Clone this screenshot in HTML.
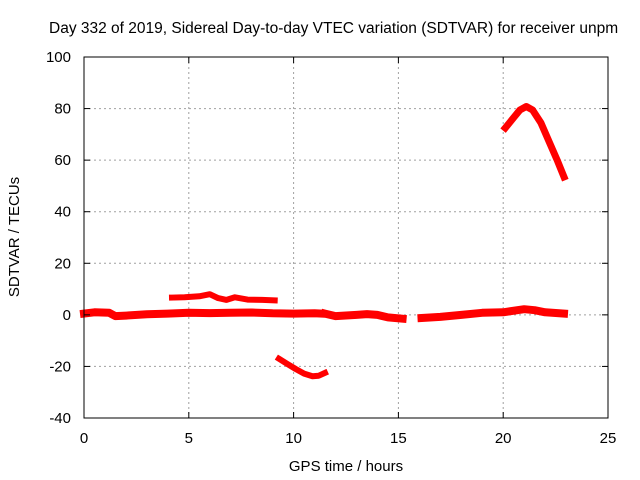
<!DOCTYPE html>
<html><head><meta charset="utf-8"><style>
body{margin:0;background:#fff}
svg{display:block;font-family:"Liberation Sans",sans-serif}
</style></head><body>
<svg id="chart" width="640" height="480" viewBox="0 0 640 480">
<text x="49" y="33" font-size="15.5" fill="#000">Day 332 of 2019, Sidereal Day-to-day VTEC variation (SDTVAR) for receiver unpm</text>
<g id="grid"></g>
<g id="series"></g>
<rect x="84" y="57" width="524" height="361" fill="none" stroke="#000" stroke-width="1"/>
<g id="ticks"></g>
<text x="346" y="471" font-size="15" text-anchor="middle">GPS time / hours</text>
<text transform="translate(19,237) rotate(-90)" font-size="15" text-anchor="middle">SDTVAR / TECUs</text>
</svg>
<script>
const xTicks=[0,5,10,15,20,25];
const yTicks=[-40,-20,0,20,40,60,80,100];
const mainHours=[0,0.5,1.2,1.5,2,3,4,5,6,7,8,9,10,11,11.3];
const mainVals=[0.5,1,0.8,-0.5,-0.3,0.2,0.5,0.8,0.7,0.8,0.9,0.6,0.5,0.6,0.5];
const mid1Hours=[11.5,12,13,13.5,14,14.5,15.2];
const mid1Vals=[0.5,-0.5,0,0.3,0,-1,-1.5];
const lateHours=[16.1,17,18,19,20,21,21.5,22,22.9];
const lateVals=[-1.2,-0.8,0,0.8,1,2.2,1.8,1,0.5];
const upperHours=[4.2,4.8,5.5,6,6.4,6.8,7.2,7.8,8.5,9.1];
const upperVals=[6.7,6.8,7.2,8,6.5,5.8,6.8,5.9,5.8,5.6];
const lowHours=[9.3,9.7,10.1,10.5,10.9,11.2,11.5];
const lowVals=[-17,-19,-21,-22.8,-23.8,-23.6,-22.5];
const highHours=[20.1,20.5,20.8,21.1,21.4,21.8,22.2,22.6,22.9];
const highVals=[72.5,76.5,79.5,80.8,79.5,74.5,67,59.5,53.5];
const X0=84,X1=608,Y0=418,Y1=57;
const xs=v=>X0+(v-0)/25*(X1-X0);
const ys=v=>Y0-(v+40)/140*(Y0-Y1);
const NS='http://www.w3.org/2000/svg';
const grid=document.getElementById('grid'),ticks=document.getElementById('ticks'),ser=document.getElementById('series');
function mk(tag,attrs,parent){const e=document.createElementNS(NS,tag);for(const k in attrs)e.setAttribute(k,attrs[k]);parent.appendChild(e);return e;}
xTicks.forEach(t=>{
 const x=xs(t);
 if(t>0&&t<25){const g=mk('line',{x1:x,x2:x,y1:Y1,y2:Y0,stroke:'#a0a0a0','stroke-dasharray':'2,3'},grid);
 
 }
 const tk=mk('line',{x1:x,x2:x,y1:Y0,y2:Y0-6,stroke:'#000'},ticks);
 
 
 const tk2=mk('line',{x1:x,x2:x,y1:Y1,y2:Y1+6,stroke:'#000'},ticks);
 
 
 const l=mk('text',{x:x,y:443,'font-size':'15','text-anchor':'middle'},ticks);l.textContent=t;
 
 
});
yTicks.forEach(t=>{
 const y=ys(t);
 if(t>-40&&t<100){const g=mk('line',{x1:X0,x2:X1,y1:y,y2:y,stroke:'#a0a0a0','stroke-dasharray':'2,3'},grid);
 
 }
 const tk=mk('line',{x1:X0,x2:X0+6,y1:y,y2:y,stroke:'#000'},ticks);
 
 
 const tk2=mk('line',{x1:X1,x2:X1-6,y1:y,y2:y,stroke:'#000'},ticks);
 
 
 const l=mk('text',{x:71,y:y+5,'font-size':'15','text-anchor':'end'},ticks);l.textContent=t;
 
 
});
function draw(h,v,name,w){
 const pts=h.map((t,i)=>xs(t).toFixed(1)+','+ys(v[i]).toFixed(1)).join(' ');
 const p=mk('polyline',{points:pts,fill:'none',stroke:'#ff0000','stroke-width':w,'stroke-linejoin':'round','stroke-linecap':'square'},ser);
 
 
}
draw(mainHours,mainVals,'series-main',8);
draw(mid1Hours,mid1Vals,'series-mid',8);
draw(lateHours,lateVals,'series-late',8);
draw(upperHours,upperVals,'series-upper',6);
draw(lowHours,lowVals,'series-low',6);
draw(highHours,highVals,'series-high',7);
</script>
</body></html>
